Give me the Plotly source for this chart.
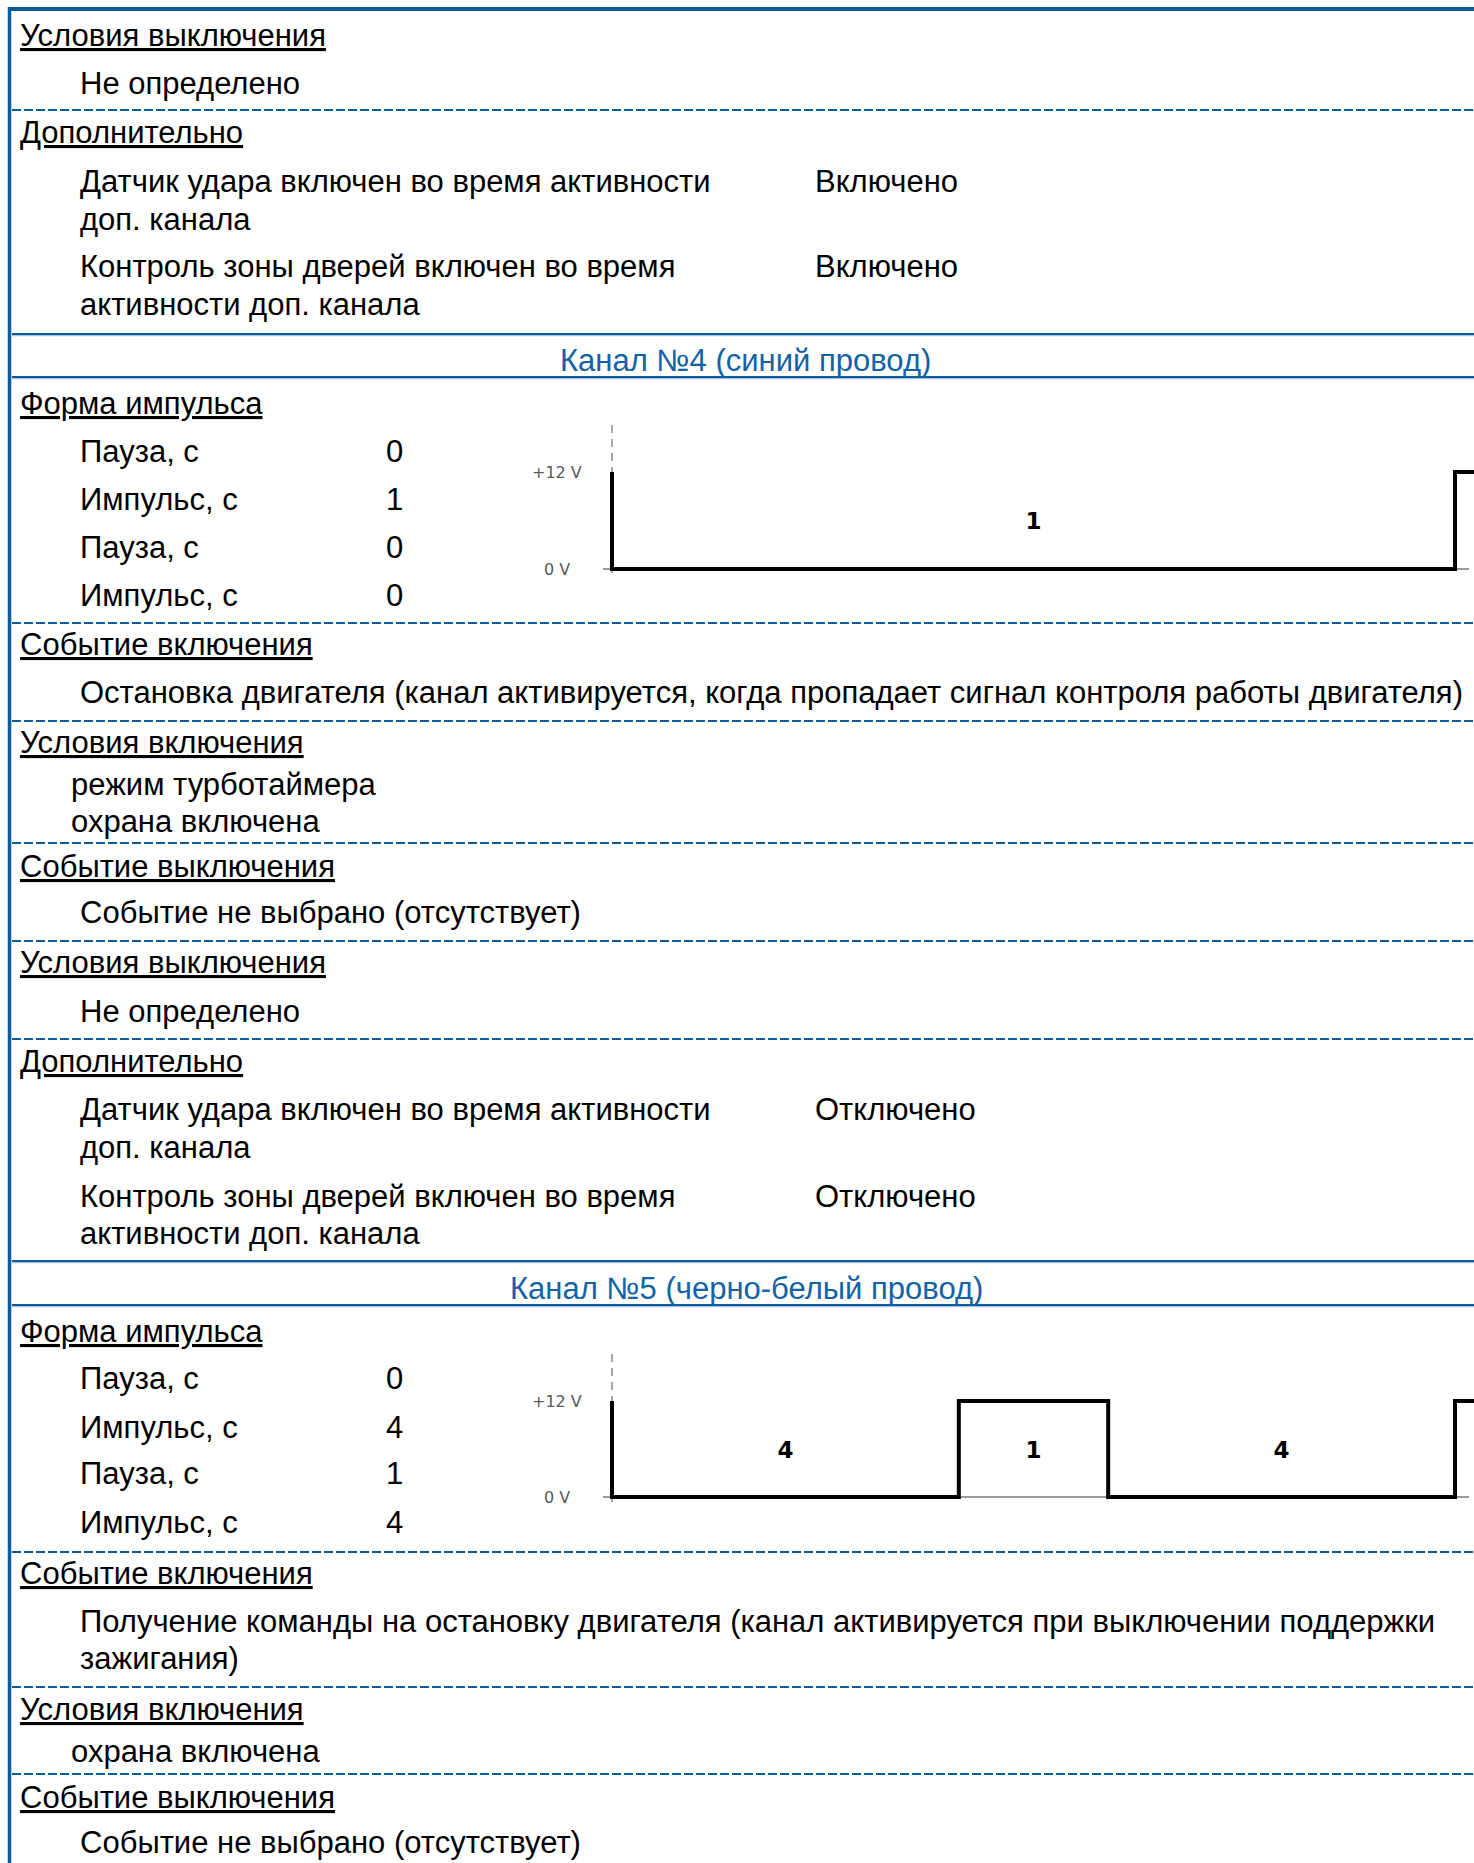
import plotly.graph_objects as go

W, H = 1474, 1863

# ---------------- data ----------------
pulse_labels = ["Пауза, с", "Импульс, с", "Пауза, с", "Импульс, с"]
pulse_levels = [12, 0, 12, 0]          # pause -> +12 V, impulse -> 0 V
ch4_values = [0, 1, 0, 0]
ch5_values = [0, 4, 1, 4]
voltage_ticks = [12, 0]
voltage_labels = ["+12 V", "0 V"]

ch4_title = "Канал №4 (синий провод)"
ch5_title = "Канал №5 (черно-белый провод)"

FONT = "Liberation Sans, Arial, sans-serif"
BLUE = "#0B5C9E"
LIGHT_BLUE = "#A8C4DE"
TEXT_BLUE = "#1462A6"
FS = 31

fig = go.Figure()
ann = []
shapes = []


def text(x, y, s, underline=False, color="#000000", size=FS, xanchor="left", family=FONT):
    ann.append(dict(x=x, y=y, xref="x", yref="y", text=s, showarrow=False,
                    xanchor=xanchor, yanchor="middle",
                    font=dict(family=family, size=size, color=color,
                              lineposition="under" if underline else "none")))


def hline(y, dashed=True):
    if dashed:
        shapes.append(dict(type="line", xref="x", yref="y", x0=12, x1=W, y0=y, y1=y,
                           line=dict(color=BLUE, width=2, dash="9px,3px")))
    else:
        shapes.append(dict(type="line", xref="x", yref="y", x0=12, x1=W, y0=y + 1.5, y1=y + 1.5,
                           line=dict(color=LIGHT_BLUE, width=1.5)))
        shapes.append(dict(type="line", xref="x", yref="y", x0=12, x1=W, y0=y, y1=y,
                           line=dict(color=BLUE, width=2.2)))


# page frame
shapes.append(dict(type="line", xref="x", yref="y", x0=8, x1=W, y0=9, y1=9,
                   line=dict(color=BLUE, width=4)))
shapes.append(dict(type="line", xref="x", yref="y", x0=9.5, x1=9.5, y0=7, y1=H,
                   line=dict(color=BLUE, width=3.5)))

for y in [110, 623, 721, 843, 941, 1039, 1552, 1687, 1774]:
    hline(y, True)
for y in [334, 377, 1261, 1305]:
    hline(y, False)

HX, BX, VX, RX = 18, 78, 813, 69

# section tail (channel 3)
text(HX, 35, "Условия выключения", True)
text(BX, 83, "Не определено")
text(HX, 132, "Дополнительно", True)
text(BX, 181, "Датчик удара включен во время активности")
text(VX, 181, "Включено")
text(BX, 219, "доп. канала")
text(BX, 266, "Контроль зоны дверей включен во время")
text(VX, 266, "Включено")
text(BX, 304, "активности доп. канала")

# channel 4
text(745, 360, ch4_title, color=TEXT_BLUE, xanchor="center")
text(HX, 403, "Форма импульса", True)
for i, (lab, val) in enumerate(zip(pulse_labels, ch4_values)):
    yy = [451, 499, 547, 595][i]
    text(BX, yy, lab)
    text(394, yy, str(val), xanchor="center")
text(HX, 644, "Событие включения", True)
text(BX, 692, "Остановка двигателя (канал активируется, когда пропадает сигнал контроля работы двигателя)")
text(HX, 742, "Условия включения", True)
text(RX, 784, "режим турботаймера")
text(RX, 821, "охрана включена")
text(HX, 866, "Событие выключения", True)
text(BX, 912, "Событие не выбрано (отсутствует)")
text(HX, 962, "Условия выключения", True)
text(BX, 1011, "Не определено")
text(HX, 1061, "Дополнительно", True)
text(BX, 1109, "Датчик удара включен во время активности")
text(VX, 1109, "Отключено")
text(BX, 1147, "доп. канала")
text(BX, 1196, "Контроль зоны дверей включен во время")
text(VX, 1196, "Отключено")
text(BX, 1233, "активности доп. канала")

# channel 5
text(746, 1288, ch5_title, color=TEXT_BLUE, xanchor="center")
text(HX, 1331, "Форма импульса", True)
for i, (lab, val) in enumerate(zip(pulse_labels, ch5_values)):
    yy = [1378, 1427, 1473, 1522][i]
    text(BX, yy, lab)
    text(394, yy, str(val), xanchor="center")
text(HX, 1573, "Событие включения", True)
text(BX, 1621, "Получение команды на остановку двигателя (канал активируется при выключении поддержки")
text(BX, 1658, "зажигания)")
text(HX, 1709, "Условия включения", True)
text(RX, 1751, "охрана включена")
text(HX, 1797, "Событие выключения", True)
text(BX, 1842, "Событие не выбрано (отсутствует)")


# ---------------- waveform charts ----------------
def waveform(values, n, px0, px1, py12, py0, top, bottom, left=520):
    """values: durations; drawn on axes xN / yN placed at given pixel geometry."""
    xa, ya = f"x{n}", f"y{n}"
    # schematic widths (short segments drawn wider)
    segs = [(v, lvl) for v, lvl in zip(values, pulse_levels) if v > 0]
    widths = [v + 1.27 for v, _ in segs]
    tot = sum(widths)
    xs, ys = [0.0], [12]
    mids, labs = [], []
    pos = 0.0
    for (v, lvl), w in zip(segs, widths):
        start, end = pos / tot, (pos + w) / tot
        xs += [start, end]
        ys += [lvl, lvl]
        mids.append((start + end) / 2)
        labs.append(f"<b>{v}</b>")
        pos += w
    xs += [1.0, 1.05]
    ys += [12, 12]

    sx = px1 - px0
    sy = (py0 - py12) / 12.0
    xr = [(left - px0) / sx, (W - px0) / sx]
    yr = [-(bottom - py0) / sy, 12 + (py12 - top) / sy]

    # guides: grey 0 V baseline and dashed vertical origin
    fig.add_trace(go.Scatter(x=[(603 - px0) / sx, (1469 - px0) / sx], y=[0, 0], mode="lines",
                             line=dict(color="#9A9A9A", width=2), xaxis=xa, yaxis=ya,
                             hoverinfo="skip", showlegend=False))
    fig.add_trace(go.Scatter(x=[0, 0], y=[12 + 47 / sy, -9 / sy], mode="lines",
                             line=dict(color="#777777", width=1.3, dash="8px,6px"), xaxis=xa, yaxis=ya,
                             hoverinfo="skip", showlegend=False))
    fig.add_trace(go.Scatter(x=xs, y=ys, mode="lines", line=dict(color="#000000", width=4),
                             xaxis=xa, yaxis=ya, hoverinfo="skip", showlegend=False, cliponaxis=True))
    fig.add_trace(go.Scatter(x=mids, y=[5.6] * len(mids), mode="text", text=labs,
                             textfont=dict(family="DejaVu Sans", size=23, color="#000000"),
                             xaxis=xa, yaxis=ya, hoverinfo="skip", showlegend=False))
    for tv, tl in zip(voltage_ticks, voltage_labels):
        ann.append(dict(x=(557 - px0) / sx, y=tv, xref=xa, yref=ya, text=tl, showarrow=False,
                        xanchor="center", yanchor="middle",
                        font=dict(family="DejaVu Sans", size=16, color="#595959")))
    ax = dict(visible=False, showgrid=False, zeroline=False, fixedrange=True)
    fig.update_layout(**{
        f"xaxis{n}": dict(ax, domain=[left / W, 1.0], range=xr, anchor=ya),
        f"yaxis{n}": dict(ax, domain=[1 - bottom / H, 1 - top / H], range=yr, anchor=xa),
    })


waveform(ch4_values, 2, 612, 1455, 472, 569, 415, 600)
waveform(ch5_values, 3, 612, 1455, 1401, 1497, 1344, 1528)

# main page axes (pixel coordinates)
fig.update_layout(
    width=W, height=H,
    margin=dict(l=0, r=0, t=0, b=0),
    paper_bgcolor="white", plot_bgcolor="rgba(0,0,0,0)",
    xaxis=dict(visible=False, range=[0, W], domain=[0, 1], fixedrange=True),
    yaxis=dict(visible=False, range=[H, 0], domain=[0, 1], fixedrange=True),
    annotations=ann, shapes=shapes, showlegend=False,
)

fig.write_html("out.html", config={"displayModeBar": False},
               post_script="document.body.style.margin='0';document.body.style.overflow='hidden';")
